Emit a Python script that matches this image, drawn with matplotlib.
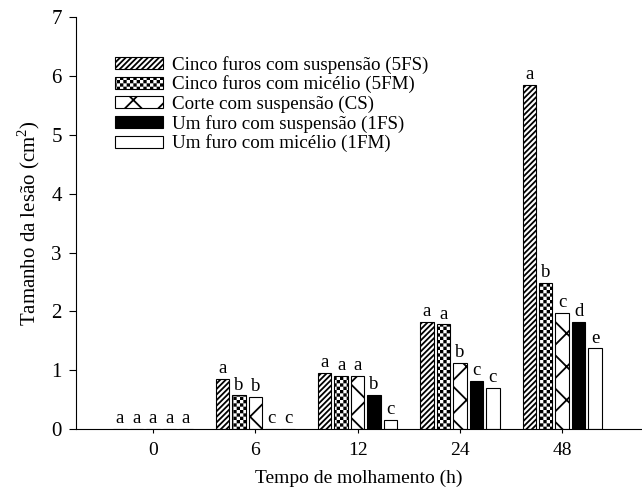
import numpy as np
import matplotlib
matplotlib.use("Agg")
import matplotlib.pyplot as plt
from matplotlib import hatch as mhatch
from matplotlib.path import Path

plt.rcParams['font.family'] = ['Liberation Serif', 'DejaVu Serif']
plt.rcParams['mathtext.fontset'] = 'custom'
plt.rcParams['mathtext.rm'] = 'Liberation Serif'
plt.rcParams['hatch.linewidth'] = 1.3

# ---- custom checkerboard hatch (replaces star pattern '*') ----
class Checker(mhatch.HatchPatternBase):
    filled = True

    def __init__(self, hatch, density):
        self.on = hatch.count('*') > 0
        self.n = 30
        self.cells = [(i, j) for i in range(self.n) for j in range(self.n)
                      if (i + j) % 2 == 0] if self.on else []
        self.num_vertices = len(self.cells) * 5

    def set_vertices_and_codes(self, vertices, codes):
        s = 1.0 / self.n
        d = 0.009  # inset to compensate for hatch stroke width
        k = 0
        for (i, j) in self.cells:
            x0, y0 = i * s + d, j * s + d
            x1, y1 = (i + 1) * s - d, (j + 1) * s - d
            vertices[k:k + 5] = [(x0, y0), (x1, y0), (x1, y1),
                                 (x0, y1), (x0, y0)]
            codes[k:k + 5] = [Path.MOVETO, Path.LINETO, Path.LINETO,
                              Path.LINETO, Path.CLOSEPOLY]
            k += 5

mhatch._hatch_types = [Checker if t is mhatch.Stars else t
                       for t in mhatch._hatch_types]

# ---- data ----
times = ['0', '6', '12', '24', '48']
series = ['Cinco furos com suspensão (5FS)',
          'Cinco furos com micélio (5FM)',
          'Corte com suspensão (CS)',
          'Um furo com suspensão (1FS)',
          'Um furo com micélio (1FM)']
v_5FS = [0.0, 0.85, 0.95, 1.82, 5.85]
v_5FM = [0.0, 0.57, 0.90, 1.78, 2.48]
v_CS = [0.0, 0.55, 0.90, 1.12, 1.97]
v_1FS = [0.0, 0.0, 0.58, 0.82, 1.82]
v_1FM = [0.0, 0.0, 0.15, 0.70, 1.37]
l_5FS = ['a', 'a', 'a', 'a', 'a']
l_5FM = ['a', 'b', 'a', 'a', 'b']
l_CS = ['a', 'b', 'a', 'b', 'c']
l_1FS = ['a', 'c', 'b', 'c', 'd']
l_1FM = ['a', 'c', 'c', 'c', 'e']

values = [v_5FS, v_5FM, v_CS, v_1FS, v_1FM]
letters = [l_5FS, l_5FM, l_CS, l_1FS, l_1FM]
styles = [
    dict(facecolor='white', hatch='//////'),
    dict(facecolor='white', hatch='*'),
    dict(facecolor='white', hatch='x'),
    dict(facecolor='black', hatch=None),
    dict(facecolor='white', hatch=None),
]

fig = plt.figure(figsize=(6.42, 4.92), dpi=100)
ax = fig.add_axes([0.118, 0.128, 0.882, 0.837])

x = np.arange(len(times))
step = 0.161
width = 0.132
for k, (vals, labs, st) in enumerate(zip(values, letters, styles)):
    pos = x + (k - 2) * step
    ax.bar(pos, vals, width, facecolor=st['facecolor'],
           edgecolor='black', linewidth=0.8, hatch=st['hatch'],
           label=series[k], zorder=2)
    for p, v, t in zip(pos, vals, labs):
        ax.text(p, v + 0.03, t, ha='center', va='bottom', fontsize=13.5)

ax.set_xlim(-0.755, 4.78)
ax.set_ylim(0, 7)
ax.set_xticks(x)
ax.set_xticklabels(times, fontsize=14)
ax.set_yticks(range(0, 8))
ax.set_yticklabels([str(i) for i in range(8)], fontsize=15)
ax.tick_params(axis='y', direction='out', length=5, width=0.8, pad=5)
ax.tick_params(axis='x', direction='out', length=3, width=0.8, pad=6)
for s in ['top', 'right']:
    ax.spines[s].set_visible(False)
ax.spines['left'].set_linewidth(0.8)
ax.spines['bottom'].set_linewidth(0.8)

ax.set_xlabel('Tempo de molhamento (h)', fontsize=14, labelpad=8)
ax.set_ylabel('Tamanho da lesão (cm$^2$)', fontsize=15, labelpad=7)

ax.legend(loc='upper left', bbox_to_anchor=(0.056, 0.925), frameon=False,
          fontsize=13.7, handlelength=2.5, handleheight=0.6,
          labelspacing=0.1, handletextpad=0.5, borderaxespad=0)

fig.savefig('out.png', dpi=100)
